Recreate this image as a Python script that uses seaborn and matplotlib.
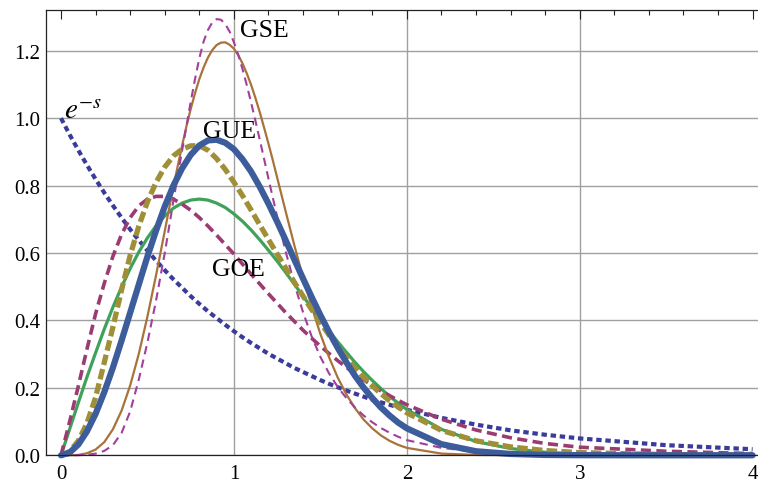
import matplotlib.pyplot as plt
import pandas as pd
import seaborn as sns
from matplotlib.ticker import FormatStrFormatter, MultipleLocator

# level spacing s (in units of the mean spacing)
s = [0.0, 0.05, 0.1, 0.15, 0.2, 0.25, 0.3, 0.35, 0.4, 0.45,
     0.5, 0.55, 0.6, 0.65, 0.7, 0.75, 0.8, 0.85, 0.9, 0.95,
     1.0, 1.05, 1.1, 1.15, 1.2, 1.25, 1.3, 1.35, 1.4, 1.45,
     1.5, 1.55, 1.6, 1.65, 1.7, 1.75, 1.8, 1.85, 1.9, 1.95,
     2.0, 2.2, 2.4, 2.6, 2.8, 3.0, 3.5, 4.0]

# finer spacing grid for the sharply peaked GSE curves
s_gse = [0.0, 0.05, 0.1, 0.15, 0.2, 0.25, 0.3, 0.35, 0.4, 0.45,
         0.5, 0.55, 0.6, 0.625, 0.65, 0.675, 0.7, 0.725, 0.75, 0.775,
         0.8, 0.825, 0.85, 0.875, 0.9, 0.925, 0.95, 0.975, 1.0, 1.025,
         1.05, 1.075, 1.1, 1.125, 1.15, 1.175, 1.2, 1.225, 1.25, 1.3,
         1.35, 1.4, 1.45, 1.5, 1.55, 1.6, 1.65, 1.7, 1.75, 1.8,
         1.85, 1.9, 1.95, 2.0, 2.2, 2.4, 2.6, 2.8, 3.0, 3.5, 4.0]

poisson = [1.0, .951, .905, .861, .819, .779, .741, .705, .670, .638,
           .607, .577, .549, .522, .497, .472, .449, .427, .407, .387,
           .368, .350, .333, .317, .301, .287, .273, .259, .247, .235,
           .223, .212, .202, .192, .183, .174, .165, .157, .150, .142,
           .135, .111, .091, .074, .061, .050, .030, .018]

goe_wigner = [0.0, .078, .156, .232, .304, .374, .439, .499, .554, .603,
              .645, .681, .710, .733, .748, .757, .760, .757, .748, .735,
              .716, .694, .668, .639, .608, .576, .542, .507, .472, .437,
              .403, .369, .337, .306, .276, .248, .222, .198, .175, .155,
              .136, .077, .041, .020, .009, .004, .0004, 0.0]

goe_dashed = [0.0, .10, .205, .315, .42, .51, .59, .655, .705, .74,
              .76, .768, .768, .76, .745, .727, .705, .68, .653, .625,
              .597, .567, .537, .508, .479, .451, .423, .397, .371, .347,
              .324, .302, .281, .261, .242, .224, .207, .191, .177, .163,
              .150, .107, .075, .052, .035, .024, .012, .005]

gue_wigner = [0.0, .008, .032, .071, .123, .187, .260, .340, .423, .507,
              .590, .667, .738, .800, .851, .891, .919, .934, .936, .927,
              .908, .878, .841, .796, .746, .693, .637, .580, .524, .469,
              .416, .366, .319, .276, .236, .201, .170, .142, .118, .097,
              .080, .033, .012, .004, .001, .0003, 0.0, 0.0]

gue_dashed = [0.0, .011, .043, .095, .172, .275, .38, .49, .593, .68,
              .752, .81, .855, .888, .908, .918, .918, .905, .88, .848,
              .81, .77, .727, .683, .64, .597, .555, .513, .472, .432,
              .394, .357, .323, .29, .26, .232, .206, .183, .162, .143,
              .126, .074, .043, .025, .014, .008, .002, .0005]

gse_wigner = [0.0, .0001, .001, .006, .017, .039, .077, .132, .207, .301,
              .412, .535, .665, .731, .796, .858, .918, .975, 1.027, 1.074,
              1.116, 1.151, 1.180, 1.202, 1.217, 1.224, 1.225, 1.218, 1.206, 1.187,
              1.162, 1.132, 1.098, 1.059, 1.017, .971, .924, .875, .824, .722,
              .622, .527, .440, .360, .291, .231, .181, .140, .106, .080,
              .059, .043, .031, .022, .005, .001, .0001, 0.0, 0.0, 0.0, 0.0]

gse_dashed = [0.0, 0.0, .0003, .0015, .005, .013, .03, .066, .13, .225,
              .335, .46, .6, .677, .755, .83, .903, .975, 1.048, 1.116,
              1.178, 1.228, 1.262, 1.284, 1.294, 1.292, 1.279, 1.257, 1.225, 1.188,
              1.145, 1.097, 1.045, .991, .935, .878, .82, .764, .708, .603,
              .508, .424, .352, .292, .243, .203, .17, .142, .118, .098,
              .081, .067, .055, .045, .022, .011, .006, .003, .0015, .0003, 0.0]

# drawing order: name, x grid, values, colour, width, dash pattern
line_styles = [
    ("poisson", s, poisson, "#3b3b9c", 3.0, (0, (1.3, 0.9))),
    ("goe_wigner", s, goe_wigner, "#3fa15a", 2.3, "-"),
    ("goe_dashed", s, goe_dashed, "#9b3b72", 2.6, (0, (2.8, 1.5))),
    ("gse_wigner", s_gse, gse_wigner, "#a8733b", 1.6, "-"),
    ("gse_dashed", s_gse, gse_dashed, "#a23e9c", 1.5, (0, (4.0, 2.6))),
    ("gue_dashed", s, gue_dashed, "#9f9038", 3.8, (0, (2.0, 0.8))),
    ("gue_wigner", s, gue_wigner, "#3d5c9c", 4.5, "-"),
]


def build_chart():
    sns.set_theme(style="white")
    plt.rcParams["font.family"] = ["Liberation Serif", "DejaVu Serif"]
    plt.rcParams["mathtext.fontset"] = "stix"

    fig = plt.figure(figsize=(7.58, 4.85), dpi=100)
    ax = fig.add_axes([0.0607, 0.0592, 0.9420, 0.9182])

    for name, xs, values, color, width, style in line_styles:
        df = pd.DataFrame({"s": xs, "P": values})
        sns.lineplot(data=df, x="s", y="P", ax=ax, color=color, linewidth=width,
                     linestyle=style, errorbar=None, clip_on=False)

    ax.set_xlim(-0.0868, 4.043)
    ax.set_ylim(0, 1.321)
    ax.set_xlabel("")
    ax.set_ylabel("")

    ax.xaxis.set_major_locator(MultipleLocator(1))
    ax.xaxis.set_minor_locator(MultipleLocator(0.2))
    ax.yaxis.set_major_locator(MultipleLocator(0.2))
    ax.yaxis.set_minor_locator(MultipleLocator(0.05))
    ax.yaxis.set_major_formatter(FormatStrFormatter("%.1f"))

    ax.set_axisbelow(True)
    ax.grid(True, which="major", color="#a0a0a0", linewidth=1.0)
    for tick_val, line in zip(ax.get_xticks(), ax.xaxis.get_gridlines()):
        if abs(tick_val) < 1e-9 or abs(tick_val - 4) < 1e-9:
            line.set_visible(False)

    ax.tick_params(which="both", direction="in", top=True, right=False,
                   color="#222222", width=0.8, labelsize=15, labelcolor="black")
    ax.tick_params(which="major", length=6.5)
    ax.tick_params(which="minor", length=3.5)
    ax.tick_params(axis="x", pad=6)
    ax.tick_params(axis="y", pad=4)

    for side in ["left", "bottom", "top", "right"]:
        ax.spines[side].set_color("#222222")
        ax.spines[side].set_linewidth(0.9)

    label_kw = dict(ha="center", va="center", fontsize=18.5, color="black")
    ax.text(1.175, 1.263, "GSE", **label_kw)
    ax.text(0.977, 0.963, "GUE", **label_kw)
    ax.text(1.025, 0.554, "GOE", **label_kw)
    ax.text(0.02, 1.0, r"$e^{-s}$", ha="left", va="baseline", fontsize=21,
            color="black")

    fig.savefig("out.png", dpi=100)
    plt.close(fig)


build_chart()
